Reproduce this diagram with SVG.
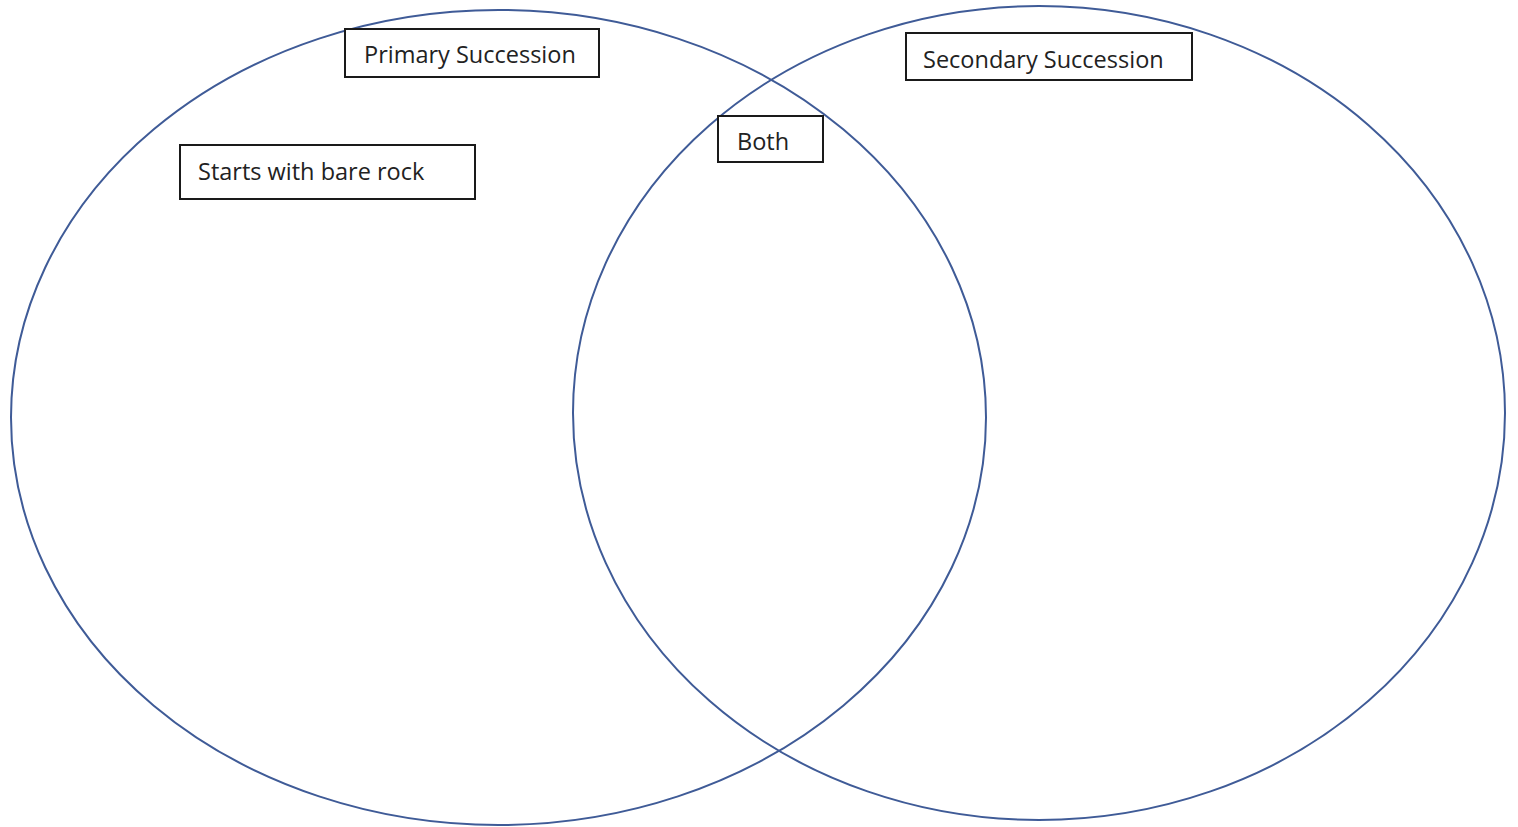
<svg xmlns="http://www.w3.org/2000/svg" width="1518" height="827" viewBox="0 0 1518 827">
<style>
.circle{fill:none;stroke:#3f5b97;stroke-width:2}
.box{fill:#fff;stroke:#1a1a1a;stroke-width:2}
.lbl{font-family:"Open Sans","Liberation Sans",sans-serif;font-size:23.5px;fill:#222}
</style>
<rect width="1518" height="827" fill="#fff"/>
<g id="circles">
<ellipse id="primary-circle" class="circle" cx="498.5" cy="417.5" rx="487.5" ry="407.5"/>
<ellipse id="secondary-circle" class="circle" cx="1039" cy="413" rx="466" ry="407"/>
</g>
<g id="connectors"></g>
<g id="primary">
<rect class="box" x="345" y="29" width="254" height="48"/>
<text class="lbl" x="364" y="63">Primary Succession</text>
</g>
<g id="secondary">
<rect class="box" x="906" y="33" width="286" height="47"/>
<text class="lbl" x="923" y="68">Secondary Succession</text>
</g>
<g id="both">
<rect class="box" x="718" y="116" width="105" height="46"/>
<text class="lbl" x="737" y="150">Both</text>
</g>
<g id="bare-rock">
<rect class="box" x="180" y="145" width="295" height="54"/>
<text class="lbl" x="198" y="180">Starts with bare rock</text>
</g>
</svg>
